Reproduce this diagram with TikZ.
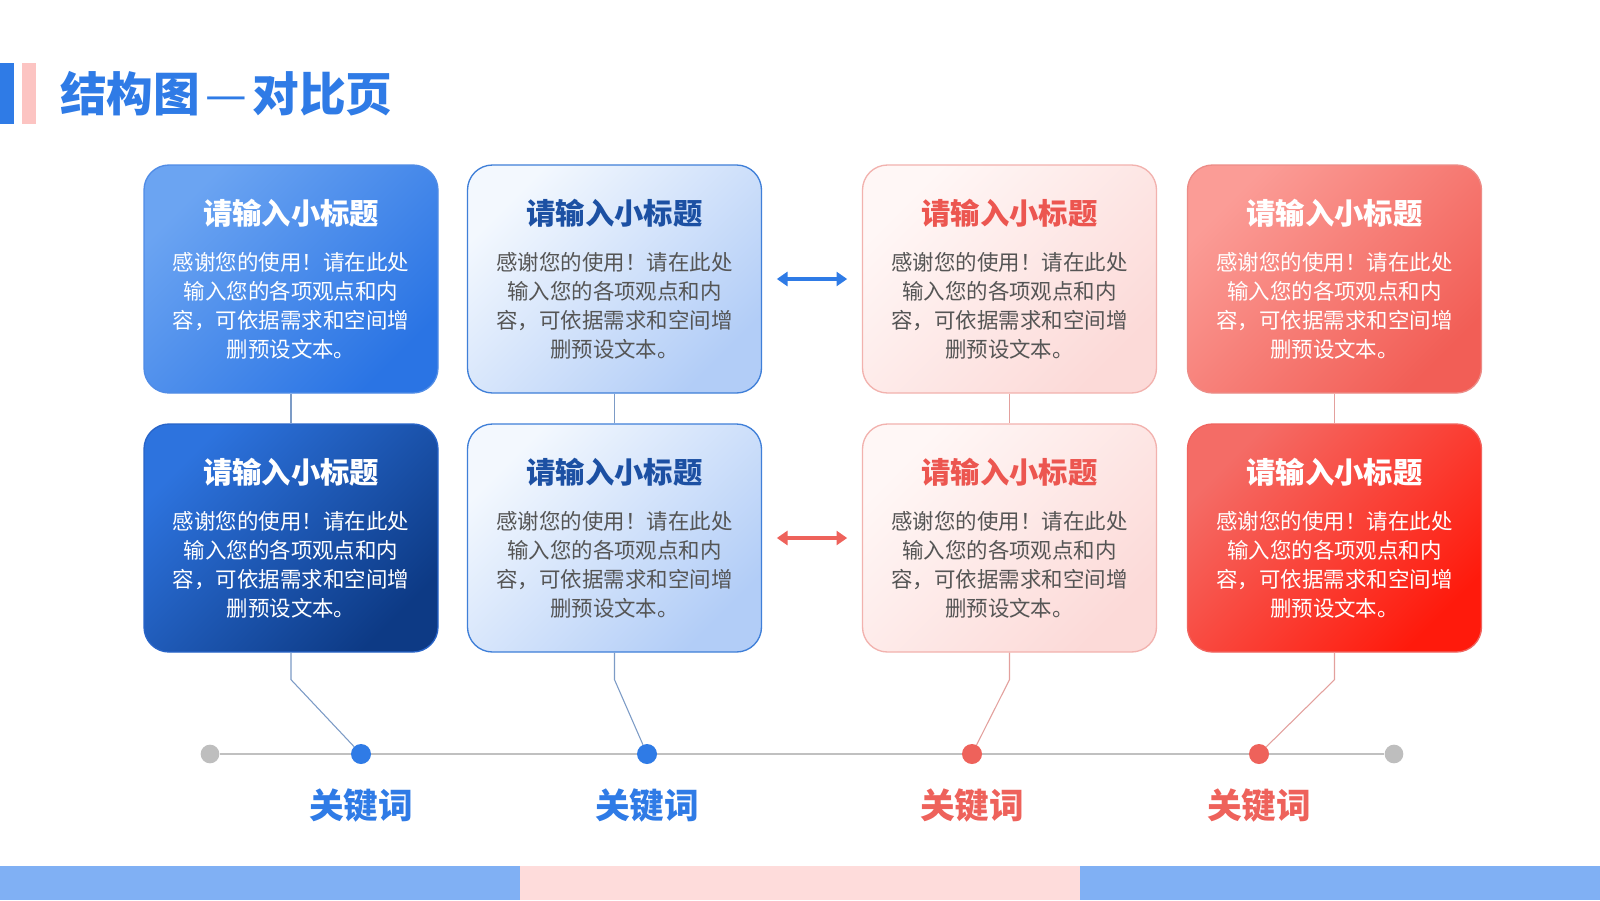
\documentclass[tikz,border=0pt]{standalone}
\usepackage{fontspec}
\setmainfont{Noto Sans CJK SC}
\usetikzlibrary{positioning,arrows.meta}

\definecolor{mainblue}{HTML}{2F7BE6}
\definecolor{mainred}{HTML}{EE625B}
\definecolor{barpink}{HTML}{FCC4C2}
\definecolor{navytitle}{HTML}{1C50A3}
\definecolor{redtitle}{HTML}{EC5650}
\definecolor{bodygray}{HTML}{555555}
\definecolor{bandblue}{HTML}{80B0F4}
\definecolor{bandpink}{HTML}{FEDCDB}
\definecolor{linegray}{HTML}{C0C0C0}
\definecolor{dotgray}{HTML}{BEBEBE}
% card shading
\definecolor{bmA}{HTML}{6BA4F2}
\definecolor{bmB}{HTML}{2A74E4}
\definecolor{bmD}{HTML}{508CE6}
\definecolor{bdA}{HTML}{2D73DE}
\definecolor{bdB}{HTML}{0D3A85}
\definecolor{bdD}{HTML}{2864C8}
\definecolor{blA}{HTML}{F3F8FE}
\definecolor{blB}{HTML}{B2CDF7}
\definecolor{blD}{HTML}{3F7FD8}
\definecolor{plA}{HTML}{FFF7F6}
\definecolor{plB}{HTML}{FCDAD8}
\definecolor{plD}{HTML}{F2B2AE}
\definecolor{rmA}{HTML}{FB9C96}
\definecolor{rmB}{HTML}{F25E56}
\definecolor{rmD}{HTML}{EC8C87}
\definecolor{rdA}{HTML}{F46C66}
\definecolor{rdB}{HTML}{FF1A0C}
\definecolor{rdD}{HTML}{F0645F}
\definecolor{bluelinkc}{HTML}{7C9BC6}
\definecolor{redlinkc}{HTML}{E3A09D}

\newcommand{\cardtext}[1]{{\bfseries\fontsize{22}{26}\selectfont\color{#1}请输入小标题}\\[12.75pt]%
感谢您的使用！请在此处\\输入您的各项观点和内\\容，可依据需求和空间增\\删预设文本。}

\begin{document}
\begin{tikzpicture}[x=0.75pt, y=-0.75pt,
    card/.style={rounded corners=18.75pt, minimum width=220.5pt, minimum height=171pt,
                 align=center, inner sep=0pt, line width=1pt,
                 font=\fontsize{16.1}{21.75}\selectfont},
    bluemid/.style={top color=bmA, bottom color=bmB, shading angle=45, draw=bmD, text=white},
    bluedark/.style={top color=bdA, bottom color=bdB, shading angle=45, draw=bdD, text=white},
    bluelight/.style={top color=blA, bottom color=blB, shading angle=45, draw=blD, text=bodygray},
    pinklight/.style={top color=plA, bottom color=plB, shading angle=45, draw=plD, text=bodygray},
    redmid/.style={top color=rmA, bottom color=rmB, shading angle=45, draw=rmD, text=white},
    reddark/.style={top color=rdA, bottom color=rdB, shading angle=45, draw=rdD, text=white},
    bluelink/.style={draw=bluelinkc, line width=0.8pt},
    redlink/.style={draw=redlinkc, line width=0.8pt},
    dot/.style={circle, inner sep=0pt, minimum size=15pt},
    enddot/.style={circle, inner sep=0pt, minimum size=14pt, fill=dotgray},
    keyword/.style={inner sep=0pt, font=\bfseries\fontsize{26}{30}\selectfont},
    dblarrow/.style={line width=3pt, {Triangle[width=10.5pt,length=8pt]}-{Triangle[width=10.5pt,length=8pt]}, shorten >=11pt, shorten <=11pt}]

  \fill[white] (0,0) rectangle (1600,900);
  \useasboundingbox (0,0) rectangle (1600,900);

  % title
  \fill[mainblue] (0,63) rectangle (14,124);
  \fill[barpink] (22,63) rectangle (36,124);
  \node[anchor=west, inner sep=0pt, text=mainblue, font=\bfseries\fontsize{35}{40}\selectfont] (title) at (60,94) {结构图\kern4pt{\mdseries —}\kern4pt 对比页};

  % cards
  \node[card, bluemid] (b11) at (291,279) {\cardtext{white}};
  \node[card, bluelight] (b12) at (614.5,279) {\cardtext{navytitle}};
  \node[card, pinklight] (b13) at (1009.5,279) {\cardtext{redtitle}};
  \node[card, redmid] (b14) at (1334.5,279) {\cardtext{white}};
  \node[card, bluedark] (b21) at (291,538) {\cardtext{white}};
  \node[card, bluelight] (b22) at (614.5,538) {\cardtext{navytitle}};
  \node[card, pinklight] (b23) at (1009.5,538) {\cardtext{redtitle}};
  \node[card, reddark] (b24) at (1334.5,538) {\cardtext{white}};

  \draw[bluelink] (b11.south) -- (b21.north);
  \draw[bluelink] (b12.south) -- (b22.north);
  \draw[redlink] (b13.south) -- (b23.north);
  \draw[redlink] (b14.south) -- (b24.north);

  \draw[dblarrow, mainblue] (b12.east) -- (b13.west);
  \draw[dblarrow, mainred] (b22.east) -- (b23.west);

  % timeline
  \node[enddot] (k0) at (210,754) {};
  \node[enddot] (k5) at (1394,754) {};
  \draw[line width=2.2pt, linegray] (k0) -- (k5);
  \node[dot, fill=mainblue] (k1) at (361,754) {};
  \node[dot, fill=mainblue] (k2) at (647,754) {};
  \node[dot, fill=mainred] (k3) at (972,754) {};
  \node[dot, fill=mainred] (k4) at (1259,754) {};

  \draw[bluelink] (b21.south) -- ++(0,27) -- (k1);
  \draw[bluelink] (b22.south) -- ++(0,27) -- (k2);
  \draw[redlink] (b23.south) -- ++(0,27) -- (k3);
  \draw[redlink] (b24.south) -- ++(0,27) -- (k4);

  \node[keyword, text=mainblue, below=18pt of k1] (w1) {关键词};
  \node[keyword, text=mainblue, below=18pt of k2] (w2) {关键词};
  \node[keyword, text=mainred, below=18pt of k3] (w3) {关键词};
  \node[keyword, text=mainred, below=18pt of k4] (w4) {关键词};

  % bottom bands
  \fill[bandblue] (0,866) rectangle (520,900);
  \fill[bandpink] (520,866) rectangle (1080,900);
  \fill[bandblue] (1080,866) rectangle (1600,900);
\end{tikzpicture}
\end{document}
